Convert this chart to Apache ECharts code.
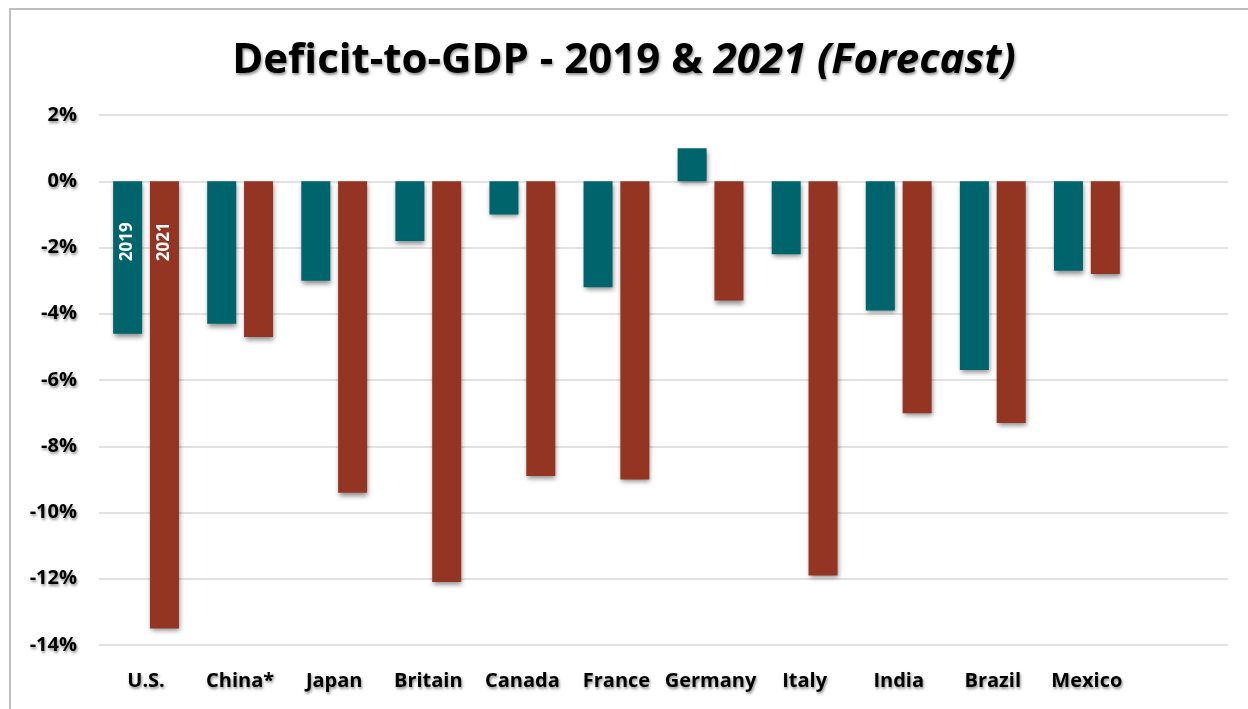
<!DOCTYPE html>
<html>
<head>
<meta charset="utf-8">
<script src="https://cdn.jsdelivr.net/npm/echarts@6/dist/echarts.min.js"></script>
<style>html,body{margin:0;padding:0;background:#fff;}#c{width:1248px;height:709px;}</style>
</head>
<body>
<div id="c"></div>
<script>
const categories = ['U.S.', 'China*', 'Japan', 'Britain', 'Canada', 'France', 'Germany', 'Italy', 'India', 'Brazil', 'Mexico'];
const values2019 = [-4.6, -4.3, -3.0, -1.8, -1.0, -3.2, 1.0, -2.2, -3.9, -5.7, -2.7];
const values2021 = [-13.5, -4.7, -9.4, -12.1, -8.9, -9.0, -3.6, -11.9, -7.0, -7.3, -2.8];
const seriesNames = ['2019', '2021'];
const yTicks = { min: -14, max: 2, interval: 2 };

const FONT = '"Open Sans"';
const shadowText = { textShadowColor: 'rgba(0,0,0,0.45)', textShadowBlur: 3, textShadowOffsetX: 1, textShadowOffsetY: 2 };
const colors = ['#00646c', '#933522'];

const xData = categories.concat(['']);

function mkData(vals, name) {
  return vals.map((v, i) => i === 0 ? {
    value: v,
    label: {
      show: true, formatter: name, position: 'insideTop', rotate: 90,
      align: 'right', verticalAlign: 'middle', distance: 41,
      color: '#fff', fontFamily: FONT, fontWeight: 'bold', fontSize: 17
    }
  } : v);
}

const chart = echarts.init(document.getElementById('c'), null, { renderer: 'canvas' });
chart.setOption({
  backgroundColor: '#fff',
  animation: false,
  graphic: [{
    type: 'rect', shape: { x: 10, y: 9, width: 1300, height: 760 },
    style: { fill: 'none', stroke: '#bfbfbf', lineWidth: 2 }, z: -1
  }],
  title: {
    text: 'Deficit-to-GDP - 2019 & {i|2021 (Forecast)}',
    left: 'center', top: 35,
    textStyle: {
      fontFamily: FONT, fontWeight: 'bold', fontSize: 42, color: '#000', ...shadowText,
      rich: { i: { fontFamily: FONT, fontWeight: 'bold', fontStyle: 'italic', fontSize: 42, color: '#000', ...shadowText } }
    }
  },
  grid: { left: 99, right: 20, top: 115, bottom: 64, containLabel: false },
  xAxis: {
    type: 'category', data: xData,
    axisLine: { show: false }, axisTick: { show: false },
    axisLabel: { fontFamily: FONT, fontWeight: 'bold', fontSize: 20, color: '#000', margin: 26, interval: 0, ...shadowText }
  },
  yAxis: {
    type: 'value', min: yTicks.min, max: yTicks.max, interval: yTicks.interval,
    axisLine: { show: false }, axisTick: { show: false },
    splitLine: { lineStyle: { color: '#d9d9d9', width: 1.5 } },
    axisLabel: { formatter: '{value}%', fontFamily: FONT, fontWeight: 'bold', fontSize: 20, color: '#000', margin: 22, ...shadowText }
  },
  series: [
    { name: seriesNames[0], type: 'bar', data: mkData(values2019, seriesNames[0]), barWidth: 29, barGap: '27%',
      itemStyle: { color: colors[0], shadowColor: 'rgba(0,0,0,0.45)', shadowBlur: 5, shadowOffsetX: 1, shadowOffsetY: 3 } },
    { name: seriesNames[1], type: 'bar', data: mkData(values2021, seriesNames[1]), barWidth: 29, barGap: '27%',
      itemStyle: { color: colors[1], shadowColor: 'rgba(0,0,0,0.45)', shadowBlur: 5, shadowOffsetX: 1, shadowOffsetY: 3 } }
  ]
});
</script>
</body>
</html>
